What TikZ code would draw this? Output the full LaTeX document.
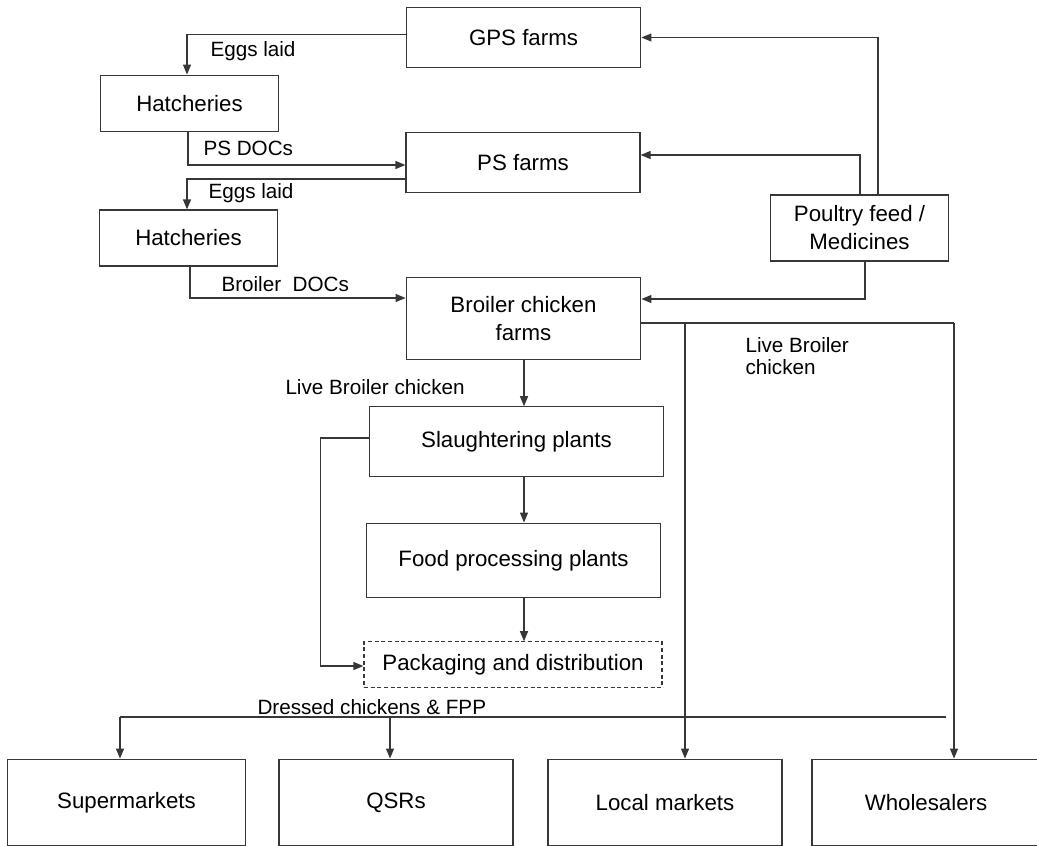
\documentclass[tikz,border=0pt]{standalone}
\usepackage{fontspec}
\setmainfont{Liberation Sans}
\usetikzlibrary{arrows.meta,calc,positioning}

\tikzset{every picture/.style={line width=0.75pt}}
\tikzset{
  flowbox/.style={draw={rgb, 255:red, 55; green, 55; blue, 55}, line width=0.9pt, inner sep=0.75pt, align=center,
    font=\fontsize{16.7}{21}\selectfont},
  flowlabel/.style={anchor=west, inner sep=0.75pt, align=left, font=\fontsize{15.5}{16.5}\selectfont},
  wire/.style={draw={rgb, 255:red, 55; green, 55; blue, 55}, line width=0.9pt},
  arr/.style={wire, -{Triangle[length=7.5pt,width=6pt]}}
}

\begin{document}
\begin{tikzpicture}[x=0.75pt,y=0.75pt,yscale=-1,xscale=1]
\useasboundingbox (0,0) rectangle (1037,845);

%Shape: Rectangle [id:gps]
\node [flowbox, minimum width=176pt, minimum height=45.5pt] (gps) at (523.5,37.5) {GPS farms};
%Shape: Rectangle [id:hatchA]
\node [flowbox, minimum width=133pt, minimum height=42.5pt] (hatchA) at (189.5,103.5) {Hatcheries};
%Shape: Rectangle [id:ps]
\node [flowbox, minimum width=175.5pt, minimum height=45.5pt] (ps) at (523,162.5) {PS farms};
%Shape: Rectangle [id:hatchB]
\node [flowbox, minimum width=133pt, minimum height=42pt] (hatchB) at (188.5,238) {Hatcheries};
%Shape: Rectangle [id:broiler]
\node [flowbox, minimum width=176pt, minimum height=62pt] (broiler) at (523.5,318.5) {Broiler chicken\\farms};
%Shape: Rectangle [id:feed]
\node [flowbox, minimum width=134pt, minimum height=49.5pt] (feed) at (859.5,228) {Poultry feed /\\Medicines};
%Shape: Rectangle [id:slaughter]
\node [flowbox, minimum width=220pt, minimum height=52pt] (slaughter) at (516.5,441.5) {Slaughtering plants};
%Shape: Rectangle [id:food]
\node [flowbox, minimum width=221pt, minimum height=56pt] (food) at (513.5,560.5) {Food processing plants};
%Shape: Rectangle [id:pack]
\node [flowbox, dash pattern={on 3pt off 2pt}, minimum width=223.5pt, minimum height=34pt] (pack) at (513,664.5) {Packaging and distribution};
%Shape: Rectangle [id:super]
\node [flowbox, minimum width=178pt, minimum height=65pt] (super) at (126.5,802.5) {Supermarkets};
\node [flowbox, minimum width=175.5pt, minimum height=65pt] (qsr) at (396,802.5) {QSRs};
\node [flowbox, minimum width=175.5pt, minimum height=65pt] (local) at (665,802.5) {Local markets};
\node [flowbox, minimum width=171pt, minimum height=65pt] (whole) at (926,802.5) {Wholesalers};

% Bend points
\coordinate (spine) at (524,0);
\coordinate (distL) at (120,717);
\coordinate (distQ) at (390,717);
\coordinate (distR) at (946,717);
\coordinate (liveM) at (685,323);
\coordinate (liveR) at (954,323);

%Straight Lines: breeding chain
\draw [arr] ($(gps.west)+(0,-3)$) -| ($(hatchA.north)+(-2.5,0)$);
\draw [arr] ($(hatchA.south)+(-1.5,0)$) |- ($(ps.west)+(0,2.5)$);
\draw [arr] ($(ps.west)+(0,16.5)$) -| ($(hatchB.north)+(-1.5,0)$);
\draw [arr] ($(hatchB.south)+(1.5,0)$) |- ($(broiler.west)+(0,-20.5)$);

%Straight Lines: feed supply
\draw [arr] ($(feed.north)+(18.5,0)$) |- (gps.east);
\draw [arr] ($(feed.north)+(0.5,0)$) |- ($(ps.east)+(0,-7.5)$);
\draw [arr] ($(feed.south)+(5.5,0)$) |- ($(broiler.east)+(0,-19.5)$);

%Straight Lines: processing
\draw [arr] (spine |- broiler.south) -- (spine |- slaughter.north);
\draw [arr] (spine |- slaughter.south) -- (spine |- food.north);
\draw [arr] (spine |- food.south) -- (spine |- pack.north);
\draw [arr] ($(slaughter.west)+(0,-3.5)$) -- ++(-49,0) |- ($(pack.west)+(0,1.5)$);

%Straight Lines: live birds to markets
\draw [wire] ($(broiler.east)+(0,4.5)$) -- (liveR);
\draw [arr] (liveR) -- (liveR |- whole.north);
\draw [arr] (liveM) -- (liveM |- local.north);

%Straight Lines: distribution
\draw [wire] ($(pack.south)+(9,0)$) -- ($(pack.south)+(9,0)$ |- distL);
\draw [wire] (distL) -- (distR);
\draw [arr] (distL) -- (distL |- super.north);
\draw [arr] (distQ) -- (distQ |- qsr.north);

% Text Node
\node [flowlabel] at (209,51) {Eggs laid};
% Text Node
\node [flowlabel] at (202,148) {PS DOCs};
% Text Node
\node [flowlabel] at (207,193) {Eggs laid};
% Text Node
\node [flowlabel] at (220,284) {Broiler\ \ DOCs};
% Text Node
\node [flowlabel] at (284,387) {Live Broiler chicken};
% Text Node
\node [flowlabel] at (744,356) {Live Broiler\\chicken};
% Text Node
\node [flowlabel] at (256,707) {Dressed chickens \& FPP};

\end{tikzpicture}
\end{document}
